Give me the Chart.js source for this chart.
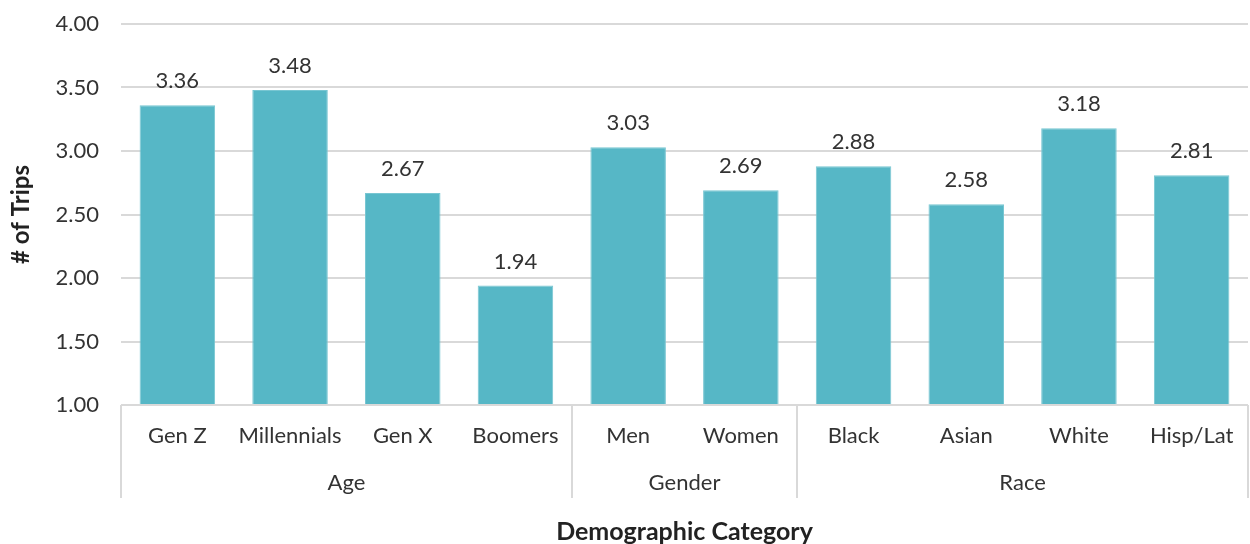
<!DOCTYPE html>
<html>
<head>
<meta charset="utf-8">
<script src="https://cdn.jsdelivr.net/npm/chart.js@4/dist/chart.umd.min.js"></script>
<style>
  html, body { margin: 0; padding: 0; background: #fff; }
  #chartDiv { width: 1250px; height: 544px; }
</style>
</head>
<body>
<div id="chartDiv"><canvas id="tripsChart"></canvas></div>
<script>
// data
var categories = ['Gen Z', 'Millennials', 'Gen X', 'Boomers', 'Men', 'Women', 'Black', 'Asian', 'White', 'Hisp/Lat'];
var tripValues = [3.36, 3.48, 2.67, 1.94, 3.03, 2.69, 2.88, 2.58, 3.18, 2.81];
var groupNames = ['Age', 'Gender', 'Race'];
var groupSizes = [4, 2, 4];
var yTicks = [1.00, 1.50, 2.00, 2.50, 3.00, 3.50, 4.00];

var fontName = 'Lato, "Open Sans", sans-serif';
var textColor = '#333333';
var lineColor = '#d9d9d9';

// labels over the bars
var valueLabels = {
    id: 'valueLabels',
    afterDatasetsDraw: function (chart) {
        var ctx = chart.ctx;
        var meta = chart.getDatasetMeta(0);
        ctx.save();
        ctx.font = '22px ' + fontName;
        ctx.fillStyle = textColor;
        ctx.textAlign = 'center';
        ctx.textBaseline = 'bottom';
        meta.data.forEach(function (bar, i) {
            ctx.fillText(tripValues[i].toFixed(2), bar.x, bar.y - 13);
        });
        ctx.restore();
    }
};

// second row of the category axis: group names and separators
var groupAxis = {
    id: 'groupAxis',
    afterDraw: function (chart) {
        var ctx = chart.ctx;
        var x = chart.scales.x;
        var area = chart.chartArea;
        var step = (x.right - x.left) / categories.length;
        var lineBottom = area.bottom + 93;
        ctx.save();
        ctx.strokeStyle = lineColor;
        ctx.lineWidth = 2;
        // baseline
        ctx.beginPath();
        ctx.moveTo(x.left, area.bottom);
        ctx.lineTo(x.right, area.bottom);
        ctx.stroke();

        ctx.font = '22px ' + fontName;
        ctx.fillStyle = textColor;
        ctx.textAlign = 'center';
        ctx.textBaseline = 'middle';
        var start = 0;
        for (var g = 0; g < groupNames.length; g++) {
            var x0 = x.left + start * step;
            var x1 = x.left + (start + groupSizes[g]) * step;
            ctx.beginPath();
            ctx.moveTo(Math.round(x0), area.bottom);
            ctx.lineTo(Math.round(x0), lineBottom);
            ctx.stroke();
            if (g == groupNames.length - 1) {
                ctx.beginPath();
                ctx.moveTo(Math.round(x1), area.bottom);
                ctx.lineTo(Math.round(x1), lineBottom);
                ctx.stroke();
            }
            ctx.fillText(groupNames[g], (x0 + x1) / 2, area.bottom + 78);
            start += groupSizes[g];
        }
        ctx.restore();
    }
};

var ctx = document.getElementById('tripsChart').getContext('2d');
var myChart = new Chart(ctx, {
    type: 'bar',
    data: {
        labels: categories,
        datasets: [{
            label: '# of Trips',
            data: tripValues,
            backgroundColor: '#56b7c6',
            borderColor: '#78c6d2',
            borderWidth: 1,
            barPercentage: 0.67,
            categoryPercentage: 1
        }]
    },
    options: {
        responsive: true,
        maintainAspectRatio: false,
        animation: false,
        layout: { padding: { top: 24, left: 7, right: 2, bottom: 0 } },
        plugins: {
            legend: { display: false },
            tooltip: { enabled: false }
        },
        scales: {
            y: {
                min: 1,
                max: 4,
                afterBuildTicks: function (scale) {
                    scale.ticks = yTicks.map(function (v) { return { value: v }; });
                },
                afterFit: function (scale) {
                    scale.width = 114;
                    scale.paddingTop = 0;
                    scale.paddingBottom = 0;
                },
                border: { display: false },
                grid: { color: lineColor, lineWidth: 2, drawTicks: false },
                ticks: {
                    padding: 22,
                    color: textColor,
                    font: { family: fontName, size: 22 },
                    callback: function (v) { return Number(v).toFixed(2); }
                },
                title: {
                    display: true,
                    text: '# of Trips',
                    color: '#222222',
                    padding: 0,
                    font: { family: fontName, size: 24, weight: 'bold' }
                }
            },
            x: {
                afterFit: function (scale) {
                    scale.height = 139;
                    scale.paddingLeft = 0;
                    scale.paddingRight = 0;
                },
                border: { display: false },
                grid: { display: false, drawTicks: false },
                ticks: {
                    padding: 18,
                    maxRotation: 0,
                    autoSkip: false,
                    color: textColor,
                    font: { family: fontName, size: 22 }
                },
                title: {
                    display: true,
                    text: 'Demographic Category',
                    color: '#222222',
                    padding: { top: 0, bottom: -3 },
                    font: { family: fontName, size: 25, weight: 'bold' }
                }
            }
        }
    },
    plugins: [valueLabels, groupAxis]
});
</script>
</body>
</html>
